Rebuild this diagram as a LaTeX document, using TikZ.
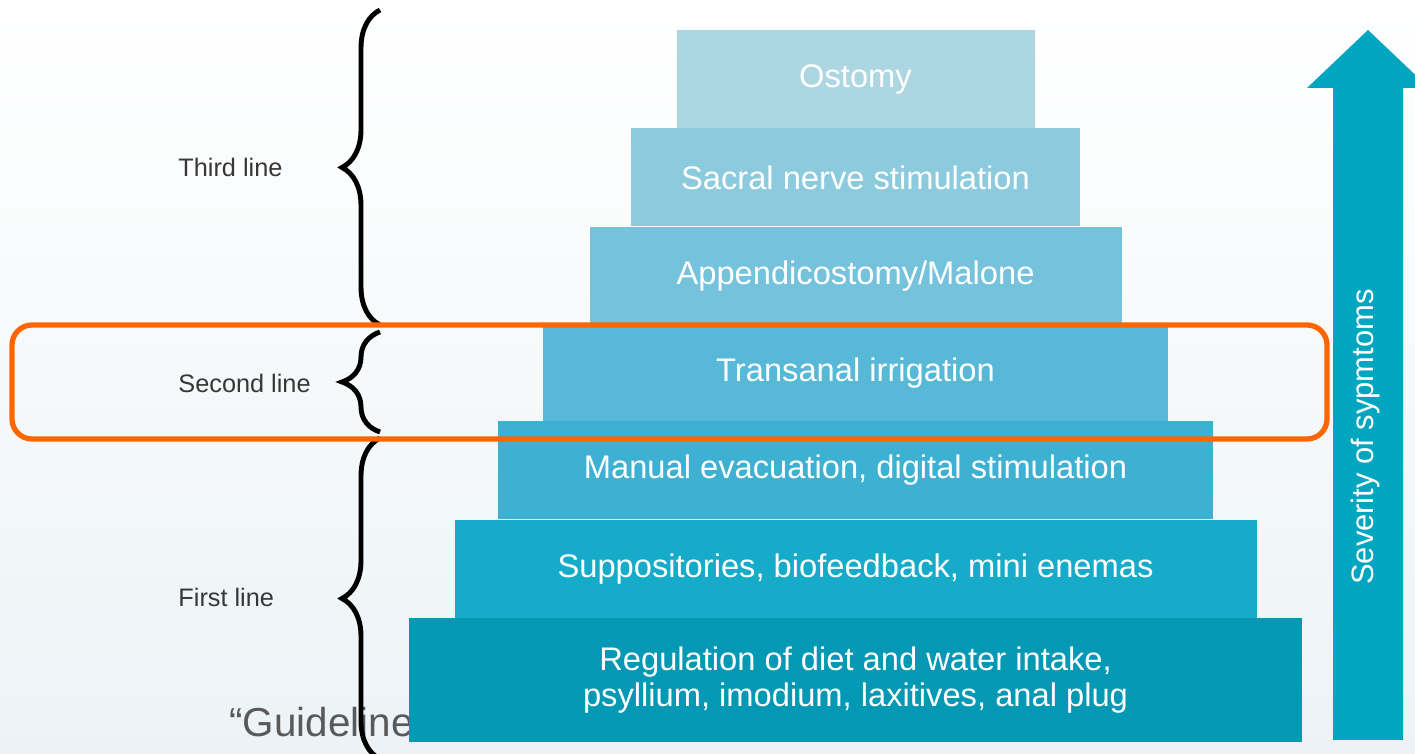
\documentclass[tikz,border=0pt]{standalone}
\usepackage{fontspec}
\setmainfont{Liberation Sans}
\usetikzlibrary{decorations.pathreplacing}
\definecolor{lyrA}{RGB}{173,214,227}
\definecolor{lyrB}{RGB}{140,203,221}
\definecolor{lyrC}{RGB}{116,194,220}
\definecolor{lyrD}{RGB}{88,184,216}
\definecolor{lyrE}{RGB}{62,177,211}
\definecolor{lyrF}{RGB}{22,171,201}
\definecolor{lyrG}{RGB}{3,152,179}
\definecolor{sevArrow}{RGB}{0,165,192}
\definecolor{hlOrange}{RGB}{255,102,0}
\definecolor{bgBottom}{RGB}{236,243,246}
\definecolor{lblGray}{RGB}{55,55,55}
\tikzset{
  layer/.style={rectangle, fill=#1, inner sep=0pt, minimum height=0.98cm, text=white, align=center, font=\fontsize{9.3}{10.2}\selectfont},
  layer/.default=lyrA,
  linelabel/.style={anchor=west, text=lblGray, font=\fontsize{7.2}{8}\selectfont},
  linebrace/.style={decorate, decoration={brace, amplitude=#1}, line width=1.4pt},
  linebrace/.default=0.38cm,
}

\begin{document}
\begin{tikzpicture}
  \useasboundingbox (0,0) rectangle (14.15,7.54);
  \fill[top color=white, bottom color=bgBottom] (0,0) rectangle (14.15,7.54);

  % citation, partly hidden behind the base layer
  \node[anchor=west, text=black!65, font=\fontsize{11.5}{13}\selectfont] (cite) at (2.17,0.32) {“Guidelines};

  % braces and line labels
  \coordinate (thirdLo) at (3.80,4.29);
  \coordinate (thirdHi) at (3.80,7.44);
  \coordinate (secondLo) at (3.80,3.22);
  \coordinate (secondHi) at (3.80,4.22);
  \coordinate (firstLo) at (3.80,-0.05);
  \coordinate (firstHi) at (3.80,3.16);
  \draw[linebrace] (thirdLo) -- (thirdHi);
  \draw[linebrace] (secondLo) -- (secondHi);
  \draw[linebrace] (firstLo) -- (firstHi);
  \node[linelabel] (third) at (1.66,5.87) {Third line};
  \node[linelabel] (second) at (1.66,3.71) {Second line};
  \node[linelabel] (first) at (1.66,1.57) {First line};

  % pyramid
  \node[layer=lyrA, minimum width=3.58cm] (ostomy) at (8.555,6.745) {Ostomy};
  \node[layer=lyrB, minimum width=4.49cm] (sacral) at (8.555,5.765) {Sacral nerve stimulation};
  \node[layer=lyrC, minimum width=5.32cm] (appendix) at (8.555,4.78) {Appendicostomy/Malone};
  \node[layer=lyrD, minimum width=6.25cm, minimum height=0.96cm] (transanal) at (8.555,3.81) {Transanal irrigation};
  \node[layer=lyrE, minimum width=7.15cm] (manual) at (8.555,2.835) {Manual evacuation, digital stimulation};
  \node[layer=lyrF, minimum width=8.02cm] (suppos) at (8.555,1.85) {Suppositories, biofeedback, mini enemas};
  \node[layer=lyrG, minimum width=8.93cm, minimum height=1.24cm] (diet) at (8.555,0.74) {Regulation of diet and water intake,\\psyllium, imodium, laxitives, anal plug};

  % highlight of the second line
  \node[draw=hlOrange, line width=1.5pt, rounded corners=0.2cm, minimum width=13.15cm, minimum height=1.14cm, inner sep=0pt] (highlight) at (6.695,3.72) {};

  % severity arrow
  \fill[sevArrow] (13.33,0.14) -- (13.33,6.66) -- (13.07,6.66) -- (13.68,7.24)
    -- (14.29,6.66) -- (14.03,6.66) -- (14.03,0.14) -- cycle;
  \node[rotate=90, text=white, font=\fontsize{8.8}{10}\selectfont] (severity) at (13.65,3.17) {Severity of sypmtoms};
\end{tikzpicture}
\end{document}
